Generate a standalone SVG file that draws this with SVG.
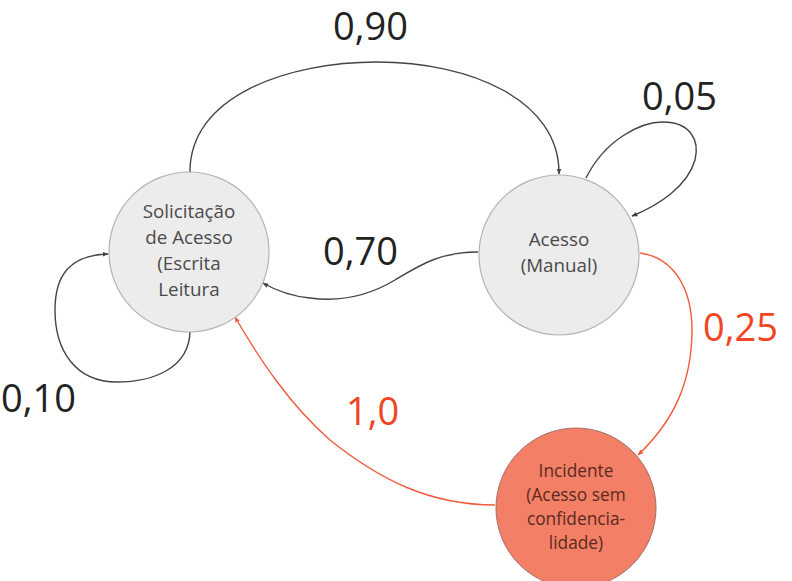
<svg xmlns="http://www.w3.org/2000/svg" width="792" height="581" viewBox="0 0 792 581">
<defs>
<style>
.node{fill:#ececec;stroke:#b3b3b3;stroke-width:1.2}
.inc{fill:#f27f66;stroke:#a07066;stroke-width:1}
.nt{font-family:"Open Sans","Noto Sans","Liberation Sans",sans-serif;font-size:18.8px;fill:#4a4a4a;text-anchor:middle}
.it{font-family:"Open Sans","Noto Sans","Liberation Sans",sans-serif;font-size:17.3px;fill:#5a2a20;text-anchor:middle}
.lab{font-family:"Open Sans","Noto Sans","Liberation Sans",sans-serif;font-size:38px;fill:#222}
.labr{font-family:"Open Sans","Noto Sans","Liberation Sans",sans-serif;font-size:38px;fill:#f04422}
.e{fill:none;stroke:#444;stroke-width:1.4}
.er{fill:none;stroke:#f25a3c;stroke-width:1.4}
</style>
<marker id="ad" viewBox="0 0 10 10" refX="9" refY="5" markerWidth="6" markerHeight="6" orient="auto" markerUnits="userSpaceOnUse"><path d="M0,1 L10,5 L0,9 z" fill="#444"/></marker>
<marker id="ar" viewBox="0 0 10 10" refX="9" refY="5" markerWidth="6" markerHeight="6" orient="auto" markerUnits="userSpaceOnUse"><path d="M0,1 L10,5 L0,9 z" fill="#f25a3c"/></marker>
</defs>
<rect width="792" height="581" fill="#fff"/>
<g id="connectors">
<path class="e" d="M190,174 C188,95 290,62 377,62 C470,62 560,100 559,174" marker-end="url(#ad)"/>
<path class="e" d="M586,178 C605,140 640,122 663,122 C690,122 700,140 695,160 C688,185 660,205 632,216" marker-end="url(#ad)"/>
<path class="e" d="M478,252 C440,252 420,265 395,280 C370,295 340,302 310,298 C290,296 275,290 263,283" marker-end="url(#ad)"/>
<path class="e" d="M190,330 C190,370 150,382 117,382 C75,382 55,350 55,310 C55,275 70,255 108,254" marker-end="url(#ad)"/>
<path class="er" d="M640,253 C675,258 692,290 692,330 C692,380 675,420 638,455" marker-end="url(#ar)"/>
<path class="er" d="M495,505 C430,505 380,480 330,440 C290,405 260,360 235,317" marker-end="url(#ar)"/>
</g>
<g id="n1">
<circle class="node" cx="189" cy="252" r="80"/>
<text class="nt" x="189" y="218">Solicitação</text>
<text class="nt" x="189" y="244">de Acesso</text>
<text class="nt" x="189" y="270">(Escrita</text>
<text class="nt" x="189" y="296">Leitura</text>
</g>
<g id="n2">
<circle class="node" cx="559" cy="255" r="80"/>
<text class="nt" x="559" y="246">Acesso</text>
<text class="nt" x="559" y="272">(Manual)</text>
</g>
<g id="n3">
<circle class="inc" cx="576" cy="508" r="80"/>
<text class="it" x="576" y="477">Incidente</text>
<text class="it" x="576" y="501">(Acesso sem</text>
<text class="it" x="576" y="525">confidencia-</text>
<text class="it" x="576" y="549">lidade)</text>
</g>
<g id="labels">
<text class="lab" x="333" y="40">0,90</text>
<text class="lab" x="642" y="110">0,05</text>
<text class="lab" x="323" y="265">0,70</text>
<text class="lab" x="1" y="412">0,10</text>
<text class="labr" x="703" y="341">0,25</text>
<text class="labr" x="346" y="425">1,0</text>
</g>
</svg>
